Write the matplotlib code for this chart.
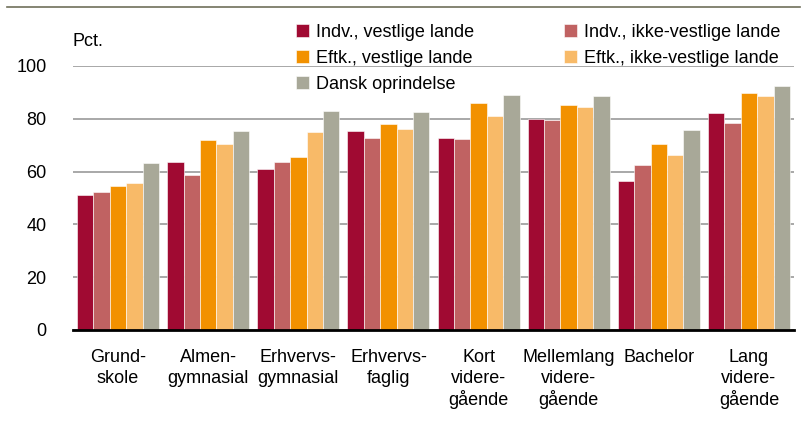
import numpy as np
import matplotlib
matplotlib.use("Agg")
import matplotlib.pyplot as plt
from matplotlib.lines import Line2D

plt.rcParams['font.family'] = ['Liberation Sans', 'DejaVu Sans']

categories = ["Grund-\nskole", "Almen-\ngymnasial", "Erhvervs-\ngymnasial", "Erhvervs-\nfaglig",
              "Kort\nvidere-\ngående", "Mellemlang\nvidere-\ngående", "Bachelor", "Lang\nvidere-\ngående"]

indv_vest = [51.1, 63.5, 60.8, 75.2, 72.8, 79.8, 56.6, 82.1]
indv_ikke = [52.4, 58.8, 63.8, 72.6, 72.2, 79.4, 62.5, 78.5]
eftk_vest = [54.7, 71.8, 65.4, 78.0, 86.1, 85.3, 70.6, 89.7]
eftk_ikke = [55.5, 70.6, 74.9, 76.1, 81.2, 84.6, 66.4, 88.7]
dansk = [63.1, 75.5, 83.1, 82.7, 88.9, 88.5, 75.9, 92.4]

series = [
    ("Indv., vestlige lande", indv_vest, "#A00A32"),
    ("Indv., ikke-vestlige lande", indv_ikke, "#C06262"),
    ("Eftk., vestlige lande", eftk_vest, "#F29100"),
    ("Eftk., ikke-vestlige lande", eftk_ikke, "#F8BA68"),
    ("Dansk oprindelse", dansk, "#A8A898"),
]

fig = plt.figure(figsize=(8.02, 4.25), dpi=100)
ax = fig.add_axes([73 / 802, 1 - 330 / 425, 721 / 802, 264 / 425])

x = np.arange(len(categories))
w = 0.182
handles = {}
for i, (name, vals, col) in enumerate(series):
    b = ax.bar(x + (i - 2) * w, vals, width=w, color=col, edgecolor='white',
               linewidth=0.4, label=name, zorder=3)
    handles[name] = b

ax.set_xlim(-0.5, len(categories) - 0.5)
ax.set_ylim(0, 100)
ax.set_yticks([0, 20, 40, 60, 80, 100])
ax.yaxis.grid(True, color='#999999', linewidth=1.2, zorder=0)
ax.set_axisbelow(True)
for s in ['top', 'right', 'left']:
    ax.spines[s].set_visible(False)
ax.spines['bottom'].set_color('black')
ax.spines['bottom'].set_linewidth(2)
ax.spines['bottom'].set_zorder(5)
ax.tick_params(axis='both', length=0, labelsize=13)
ax.tick_params(axis='y', pad=19)
ax.tick_params(axis='x', pad=14)
ax.set_xticks(x)
ax.set_xticklabels(categories, linespacing=1.25)

fig.text(73 / 802, 1 - 42 / 425, "Pct.", fontsize=13, va='center', ha='left')

order = ["Indv., vestlige lande", "Eftk., vestlige lande", "Dansk oprindelse",
         "Indv., ikke-vestlige lande", "Eftk., ikke-vestlige lande"]
fig.legend([handles[n] for n in order], order, ncol=2, frameon=False,
           loc='upper left', bbox_to_anchor=(296 / 802, 1 - 24 / 425),
           fontsize=13, handlelength=0.7, handleheight=0.7, handletextpad=0.4,
           labelspacing=0.5, columnspacing=5.0, borderpad=0, borderaxespad=0)

fig.add_artist(Line2D([7 / 802, 800 / 802], [1 - 7 / 425, 1 - 7 / 425],
                      color='#6F6F5A', linewidth=1.2))

fig.savefig("out.png", dpi=100)
